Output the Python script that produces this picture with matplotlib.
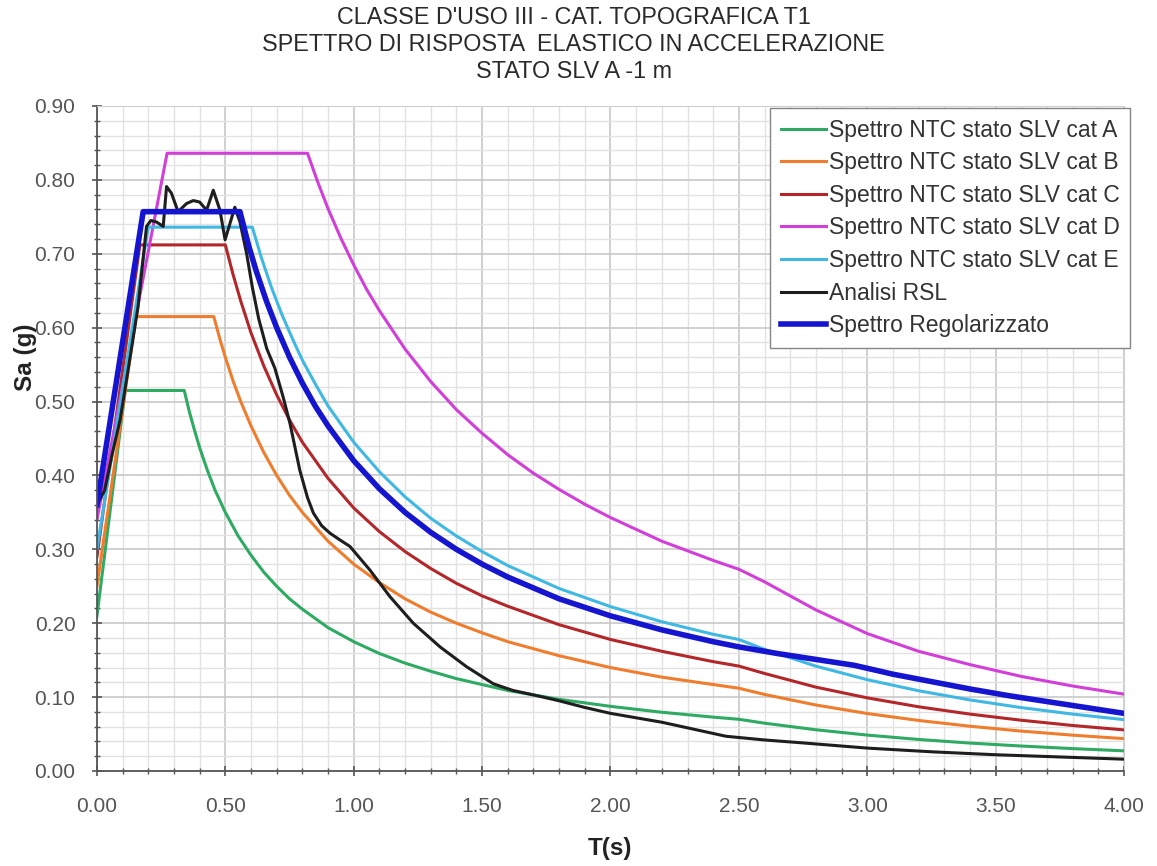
import matplotlib
matplotlib.use("Agg")
import matplotlib.pyplot as plt
from matplotlib.ticker import MultipleLocator, FormatStrFormatter

plt.rcParams["font.family"] = ["Liberation Sans", "DejaVu Sans"]

# Spectra (T in s, Sa in g)
t_a = [0, 0.11, 0.34, 0.36, 0.38, 0.40, 0.43, 0.46, 0.5, 0.55, 0.6, 0.65, 0.7,
       0.75, 0.8, 0.9, 1.0, 1.1, 1.2, 1.3, 1.4, 1.5, 1.6, 1.8, 2.0, 2.2, 2.4,
       2.5, 2.6, 2.8, 3.0, 3.2, 3.4, 3.6, 3.8, 4.0]
sa_a = [0.21, 0.515, 0.515, 0.486, 0.461, 0.4375, 0.407, 0.380, 0.35, 0.318,
        0.292, 0.269, 0.25, 0.233, 0.219, 0.194, 0.175, 0.159, 0.146, 0.135,
        0.125, 0.117, 0.109, 0.097, 0.0875, 0.0795, 0.0729, 0.07, 0.0647,
        0.0558, 0.0486, 0.0427, 0.0378, 0.0338, 0.0303, 0.0273]

t_b = [0, 0.152, 0.455, 0.48, 0.5, 0.53, 0.56, 0.6, 0.65, 0.7, 0.75, 0.8, 0.9,
       1.0, 1.1, 1.2, 1.3, 1.4, 1.5, 1.6, 1.8, 2.0, 2.2, 2.4, 2.5, 2.6, 2.8,
       3.0, 3.2, 3.4, 3.6, 3.8, 4.0]
sa_b = [0.25, 0.615, 0.615, 0.583, 0.56, 0.528, 0.50, 0.467, 0.431, 0.40, 0.373,
        0.35, 0.311, 0.28, 0.255, 0.233, 0.215, 0.20, 0.187, 0.175, 0.156, 0.14,
        0.127, 0.117, 0.112, 0.1036, 0.0893, 0.0778, 0.0684, 0.0606, 0.054,
        0.0485, 0.0438]

t_c = [0, 0.167, 0.5, 0.53, 0.56, 0.6, 0.65, 0.7, 0.75, 0.8, 0.9, 1.0, 1.1, 1.2,
       1.3, 1.4, 1.5, 1.6, 1.8, 2.0, 2.2, 2.4, 2.5, 2.6, 2.8, 3.0, 3.2, 3.4,
       3.6, 3.8, 4.0]
sa_c = [0.29, 0.712, 0.712, 0.672, 0.636, 0.593, 0.548, 0.509, 0.475, 0.445,
        0.396, 0.356, 0.324, 0.297, 0.274, 0.254, 0.237, 0.223, 0.198, 0.178,
        0.162, 0.148, 0.142, 0.132, 0.1135, 0.099, 0.0869, 0.077, 0.0687,
        0.0616, 0.0556]

t_d = [0, 0.273, 0.82, 0.86, 0.9, 0.95, 1.0, 1.05, 1.1, 1.2, 1.3, 1.4, 1.5, 1.6,
       1.7, 1.8, 1.9, 2.0, 2.2, 2.4, 2.5, 2.6, 2.8, 3.0, 3.2, 3.4, 3.6, 3.8, 4.0]
sa_d = [0.34, 0.836, 0.836, 0.797, 0.761, 0.721, 0.685, 0.652, 0.623, 0.571,
        0.527, 0.489, 0.457, 0.428, 0.403, 0.381, 0.361, 0.343, 0.311, 0.285,
        0.273, 0.256, 0.218, 0.186, 0.162, 0.144, 0.128, 0.115, 0.104]

t_e = [0, 0.2, 0.605, 0.64, 0.68, 0.72, 0.76, 0.8, 0.85, 0.9, 1.0, 1.1, 1.2, 1.3,
       1.4, 1.5, 1.6, 1.8, 2.0, 2.2, 2.4, 2.5, 2.6, 2.8, 3.0, 3.2, 3.4, 3.6,
       3.8, 4.0]
sa_e = [0.30, 0.736, 0.736, 0.695, 0.654, 0.618, 0.586, 0.556, 0.524, 0.494,
        0.445, 0.405, 0.371, 0.342, 0.318, 0.297, 0.278, 0.247, 0.2225, 0.202,
        0.185, 0.178, 0.1646, 0.1419, 0.1236, 0.1086, 0.0962, 0.0858, 0.077,
        0.0695]

t_rsl = [0, 0.03, 0.06, 0.09, 0.12, 0.16, 0.193, 0.21, 0.232, 0.258, 0.271, 0.29,
         0.316, 0.349, 0.375, 0.40, 0.427, 0.453, 0.479, 0.499, 0.518, 0.537,
         0.557, 0.583, 0.605, 0.63, 0.661, 0.693, 0.726, 0.752, 0.79, 0.82,
         0.843, 0.875, 0.907, 0.945, 0.985, 1.063, 1.141, 1.232, 1.336, 1.44,
         1.544, 1.62, 1.7, 1.8, 1.9, 2.0, 2.2, 2.45, 2.6, 2.75, 3.0, 3.25, 3.5,
         3.75, 4.0]
sa_rsl = [0.36, 0.38, 0.43, 0.475, 0.54, 0.628, 0.737, 0.745, 0.743, 0.737, 0.791,
          0.782, 0.757, 0.768, 0.772, 0.770, 0.759, 0.786, 0.759, 0.719, 0.741,
          0.763, 0.743, 0.70, 0.655, 0.612, 0.572, 0.545, 0.505, 0.47, 0.407,
          0.37, 0.349, 0.332, 0.322, 0.313, 0.304, 0.272, 0.236, 0.20, 0.168,
          0.141, 0.118, 0.109, 0.103, 0.095, 0.086, 0.078, 0.066, 0.047, 0.042,
          0.038, 0.031, 0.026, 0.022, 0.019, 0.016]

t_reg = [0, 0.18, 0.557, 0.59, 0.62, 0.66, 0.7, 0.75, 0.8, 0.85, 0.9, 1.0, 1.1,
         1.2, 1.3, 1.4, 1.5, 1.6, 1.8, 2.0, 2.2, 2.4, 2.5, 2.65, 2.8, 2.95, 3.1,
         3.25, 3.4, 3.55, 3.7, 3.85, 4.0]
sa_reg = [0.36, 0.757, 0.757, 0.712, 0.677, 0.636, 0.60, 0.56, 0.525, 0.494,
          0.467, 0.42, 0.382, 0.35, 0.323, 0.30, 0.28, 0.2625, 0.233, 0.21,
          0.191, 0.175, 0.168, 0.159, 0.151, 0.143, 0.131, 0.121, 0.111, 0.102,
          0.094, 0.086, 0.078]

labels = ["Spettro NTC stato SLV cat A", "Spettro NTC stato SLV cat B",
          "Spettro NTC stato SLV cat C", "Spettro NTC stato SLV cat D",
          "Spettro NTC stato SLV cat E", "Analisi RSL", "Spettro Regolarizzato"]
title_lines = ["CLASSE D'USO III - CAT. TOPOGRAFICA T1",
               "SPETTRO DI RISPOSTA  ELASTICO IN ACCELERAZIONE",
               "STATO SLV A -1 m"]

fig = plt.figure(figsize=(11.57, 8.66), dpi=100)
ax = fig.add_axes([0.0838, 0.1097, 0.8877, 0.7679])

series = [
    (t_a, sa_a, "#2eaa62", 2.2),
    (t_b, sa_b, "#ef7d2d", 2.2),
    (t_c, sa_c, "#b3262a", 2.2),
    (t_d, sa_d, "#d23fd8", 2.2),
    (t_e, sa_e, "#3fb8e4", 2.2),
    (t_rsl, sa_rsl, "#1e1e1e", 2.2),
    (t_reg, sa_reg, "#1515d0", 4.0),
]
for (t, sa, col, lw), lab in zip(series, labels):
    ax.plot(t, sa, color=col, lw=lw, label=lab, solid_joinstyle="round")

ax.set_xlim(0, 4.0)
ax.set_ylim(0, 0.9)
ax.xaxis.set_major_locator(MultipleLocator(0.5))
ax.xaxis.set_minor_locator(MultipleLocator(0.1))
ax.yaxis.set_major_locator(MultipleLocator(0.1))
ax.yaxis.set_minor_locator(MultipleLocator(0.02))
ax.xaxis.set_major_formatter(FormatStrFormatter("%.2f"))
ax.yaxis.set_major_formatter(FormatStrFormatter("%.2f"))

ax.grid(which="major", color="#c8c8c8", lw=1.2)
ax.grid(which="minor", color="#e2e2e2", lw=1.0)
ax.set_axisbelow(True)

ax.tick_params(which="both", direction="inout", color="#555555", labelcolor="#555555",
               labelsize=15)
ax.tick_params(which="major", length=7, width=1.2)
ax.tick_params(which="minor", length=4, width=1.0)
ax.tick_params(axis="x", pad=15)
ax.tick_params(axis="y", pad=12)

for side in ["left", "bottom"]:
    ax.spines[side].set_color("#555555")
    ax.spines[side].set_linewidth(1.3)
for side in ["top", "right"]:
    ax.spines[side].set_color("#cfcfcf")

ax.set_xlabel("T(s)", fontsize=17.5, fontweight="bold", color="#222222")
ax.xaxis.set_label_coords(0.5, -0.1)
ax.set_ylabel("Sa (g)", fontsize=17.5, fontweight="bold", color="#222222")
ax.yaxis.set_label_coords(-0.058, 0.622)

leg = ax.legend(loc="upper right", bbox_to_anchor=(1.008, 1.0), borderaxespad=0.1,
                fontsize=16.5, handlelength=2.0, handletextpad=0.1,
                labelspacing=0.42, borderpad=0.45, fancybox=False, framealpha=1,
                edgecolor="#858585")
leg.get_frame().set_linewidth(1.0)
for txt in leg.get_texts():
    txt.set_color("#333333")

for i, line in enumerate(title_lines):
    fig.text(0.496, 1 - (18 + 26.5 * i) / 866, line, ha="center", va="center",
             fontsize=16.8, color="#2a2a2a")

fig.savefig("out.png", dpi=100)
